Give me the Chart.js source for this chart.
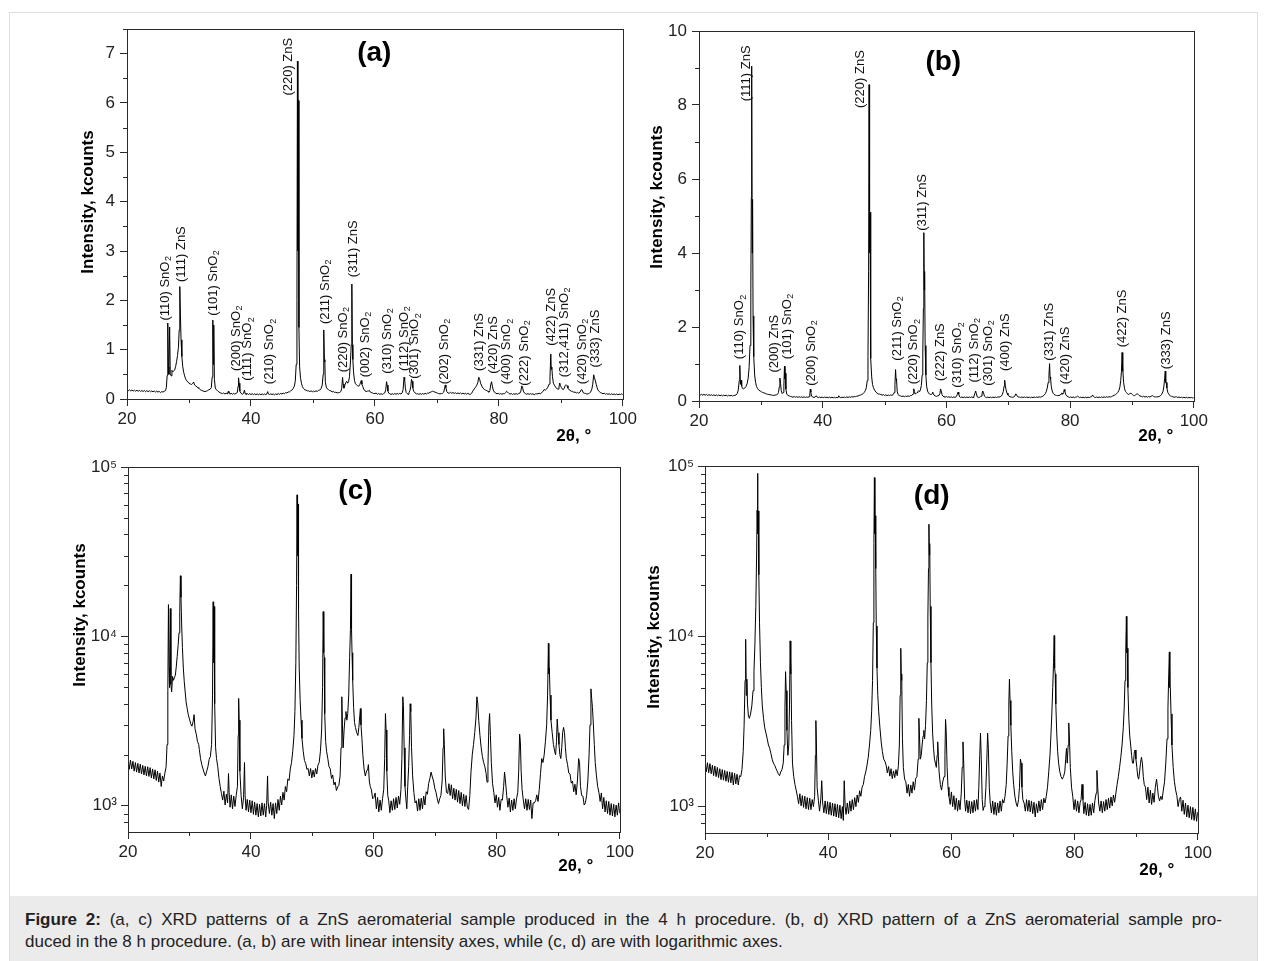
<!DOCTYPE html>
<html><head><meta charset="utf-8">
<script src="https://cdn.jsdelivr.net/npm/chart.js@4/dist/chart.umd.min.js"></script>
<style>
html,body{margin:0;padding:0;background:#fff;}
body{width:1265px;height:961px;position:relative;overflow:hidden;font-family:"Liberation Sans",Arial,sans-serif;}
#frame{position:absolute;left:9px;top:12px;width:1247px;height:960px;border:1px solid #dedede;}
canvas{position:absolute;}
#caption{position:absolute;left:10px;top:896px;width:1247px;height:65px;background:#ebebeb;}
#caption p{margin:0;position:absolute;left:15px;top:13px;font-size:17px;line-height:22px;color:#222;white-space:nowrap;}
#caption .l1{display:block;width:1197px;text-align:justify;text-align-last:justify;white-space:normal;}
</style></head>
<body>
<div id="frame"></div>
<canvas id="ca"></canvas><canvas id="cb"></canvas><canvas id="cc"></canvas><canvas id="cd"></canvas>
<div id="caption"><p><span class="l1"><b>Figure 2:</b> (a, c) XRD patterns of a ZnS aeromaterial sample produced in the 4 h procedure. (b, d) XRD pattern of a ZnS aeromaterial sample pro-</span>duced in the 8 h procedure. (a, b) are with linear intensity axes, while (c, d) are with logarithmic axes.</p></div>
<script>
// ---------- DATA: [2theta (deg), intensity (counts)] ----------
const pattern4h = [
[20.0,1900],[20.2,1640],[20.4,1860],[20.6,1650],[20.8,1830],[21.0,1600],[21.2,1800],[21.4,1580],[21.6,1780],[21.8,1560],
[22.0,1760],[22.2,1540],[22.4,1730],[22.6,1520],[22.8,1710],[23.0,1500],[23.2,1700],[23.4,1490],[23.6,1680],[23.8,1460],
[24.0,1650],[24.2,1440],[24.4,1630],[24.6,1410],[24.8,1600],[25.0,1380],[25.2,1560],[25.4,1300],[25.6,1500],[25.8,1400],
[26.0,1560],[26.2,1700],[26.35,2300],[26.48,4800],[26.58,15400],[26.68,6500],[26.76,5000],[26.88,14600],[26.98,5200],[27.1,4700],
[27.25,5800],[27.4,5500],[27.55,5700],[27.7,5900],[27.85,6600],[28.0,7600],[28.15,8800],[28.3,10500],[28.42,14000],[28.52,22800],
[28.62,17000],[28.72,12000],[28.85,8600],[29.0,6500],[29.15,5400],[29.3,4700],[29.45,4100],[29.6,3800],[29.8,3450],[30.0,3250],
[30.2,3050],[30.4,2950],[30.6,3150],[30.75,3450],[30.9,2850],[31.1,2650],[31.3,2400],[31.5,2300],[31.6,2150],[31.8,1900],
[32.0,1750],[32.2,1650],[32.4,1560],[32.6,1500],[32.8,1600],[33.0,1700],[33.2,1880],[33.4,1950],[33.6,2300],[33.75,4500],
[33.85,16000],[33.93,7000],[34.0,15000],[34.1,4000],[34.25,2200],[34.4,1900],[34.6,1700],[34.8,1450],[35.0,1300],[35.2,1180],
[35.4,1080],[35.6,1220],[35.8,1010],[36.0,1170],[36.2,1040],[36.35,1550],[36.45,1200],[36.6,980],[36.8,1160],[37.0,960],
[37.2,1140],[37.4,990],[37.6,1150],[37.8,1300],[37.92,2600],[38.0,4300],[38.08,3200],[38.2,1600],[38.4,1150],[38.6,960],
[38.8,1120],[38.95,1800],[39.05,1150],[39.2,940],[39.4,1090],[39.6,920],[39.8,1080],[40.0,910],[40.2,1070],[40.4,890],
[40.6,1050],[40.8,880],[41.0,1030],[41.2,860],[41.4,1020],[41.6,870],[41.8,1040],[42.0,880],[42.2,1030],[42.4,860],
[42.55,1000],[42.7,1500],[42.8,1050],[43.0,900],[43.2,1050],[43.4,880],[43.6,1030],[43.8,840],[44.0,1040],[44.2,900],
[44.4,1090],[44.6,940],[44.8,1140],[45.0,1010],[45.2,1200],[45.4,1080],[45.6,1300],[45.8,1210],[46.0,1440],[46.2,1410],
[46.4,1650],[46.6,1800],[46.8,2100],[47.0,2600],[47.15,3600],[47.3,7000],[47.42,20000],[47.5,68500],[47.58,30000],[47.66,60500],
[47.74,14500],[47.85,6500],[48.0,4200],[48.15,3200],[48.3,2500],[48.5,2100],[48.7,1850],[48.9,1780],[49.1,1640],[49.3,1660],
[49.5,1500],[49.7,1660],[49.9,1460],[50.1,1620],[50.3,1480],[50.5,1660],[50.7,1540],[50.9,1740],[51.1,1800],[51.3,2100],
[51.5,2800],[51.65,5000],[51.75,14000],[51.85,8000],[51.92,7500],[52.0,3500],[52.15,2400],[52.3,2100],[52.5,1900],[52.7,1700],
[52.9,1650],[53.1,1450],[53.3,1520],[53.5,1330],[53.7,1380],[53.9,1230],[54.1,1290],[54.3,1320],[54.5,1500],[54.65,2200],
[54.78,4400],[54.88,3000],[55.0,2200],[55.15,2800],[55.3,3300],[55.45,3600],[55.6,3200],[55.75,3500],[55.9,4500],[56.05,7500],
[56.18,11000],[56.28,23300],[56.36,11000],[56.44,8000],[56.55,5500],[56.7,3800],[56.85,3100],[57.0,2900],[57.2,2700],[57.4,2600],
[57.55,2900],[57.7,3400],[57.8,3750],[57.9,3000],[58.05,2500],[58.2,2000],[58.4,1650],[58.6,1500],[58.8,1600],[59.0,1650],
[59.1,1750],[59.25,1400],[59.4,1300],[59.6,1240],[59.8,1100],[60.0,1120],[60.2,1190],[60.4,960],[60.6,1120],[60.8,920],
[61.0,1080],[61.2,940],[61.4,1100],[61.6,1250],[61.75,1900],[61.88,3500],[61.98,2800],[62.1,1600],[62.25,1150],[62.4,1080],
[62.6,910],[62.8,1070],[63.0,940],[63.2,1100],[63.4,950],[63.6,1120],[63.8,970],[64.0,1140],[64.2,1020],[64.4,1250],
[64.55,1900],[64.7,4400],[64.8,3900],[64.92,2200],[65.05,1300],[65.2,1100],[65.35,960],[65.5,1300],[65.65,1700],[65.8,2600],
[65.9,4000],[66.0,3600],[66.12,2200],[66.3,1500],[66.5,1200],[66.7,1040],[66.9,1070],[67.1,930],[67.3,1100],[67.5,940],
[67.7,1110],[67.9,960],[68.1,1140],[68.3,1010],[68.5,1210],[68.7,1170],[68.9,1350],[69.1,1450],[69.3,1580],[69.5,1480],
[69.7,1400],[69.9,1270],[70.1,1200],[70.3,1100],[70.5,1030],[70.7,1100],[70.9,1150],[71.1,1400],[71.25,2200],[71.35,2850],
[71.45,2300],[71.6,1500],[71.8,1200],[72.0,1180],[72.2,1350],[72.4,1150],[72.6,1330],[72.8,1100],[73.0,1270],[73.2,1080],
[73.4,1250],[73.6,1050],[73.8,1230],[74.0,1030],[74.2,1200],[74.4,1000],[74.6,1170],[74.8,990],[75.0,1150],[75.2,980],
[75.4,950],[75.6,1150],[75.8,1600],[76.0,2000],[76.2,2300],[76.4,2700],[76.6,3300],[76.75,4400],[76.9,4000],[77.05,3200],
[77.25,2600],[77.45,2200],[77.65,1950],[77.85,1800],[78.05,1700],[78.25,1550],[78.4,1380],[78.55,1700],[78.7,3000],[78.82,3500],
[78.95,2600],[79.1,1800],[79.3,1350],[79.5,1200],[79.7,1040],[79.9,1160],[80.1,980],[80.3,1120],[80.5,940],[80.7,1090],
[80.9,1080],[81.1,1300],[81.25,1580],[81.4,1400],[81.6,1150],[81.8,980],[82.0,1110],[82.2,920],[82.4,1080],[82.6,940],
[82.8,1100],[83.0,960],[83.2,1100],[83.4,1200],[83.55,1600],[83.7,2650],[83.82,2400],[83.95,1600],[84.1,1250],[84.3,1080],
[84.5,960],[84.7,1100],[84.9,940],[85.1,1090],[85.3,950],[85.5,1080],[85.7,840],[85.9,1040],[86.1,1040],[86.3,1070],
[86.5,1160],[86.7,1060],[86.9,1250],[87.1,1550],[87.3,1900],[87.5,1800],[87.7,2000],[87.9,2400],[88.1,3000],[88.25,4500],
[88.38,9100],[88.46,6000],[88.54,6500],[88.65,4500],[88.8,3200],[89.0,2700],[89.2,2300],[89.4,2100],[89.55,2000],[89.7,2400],
[89.82,3250],[89.95,2700],[90.1,2300],[90.25,2000],[90.4,1900],[90.55,2200],[90.7,2700],[90.85,2900],[91.0,2700],[91.15,2200],
[91.3,1900],[91.5,1750],[91.7,1560],[91.9,1540],[92.1,1360],[92.3,1400],[92.5,1210],[92.7,1340],[92.9,1160],[93.1,1400],
[93.3,1900],[93.45,1800],[93.6,1300],[93.8,1150],[94.0,1140],[94.2,1010],[94.4,1040],[94.6,1150],[94.8,1400],[95.0,2000],
[95.15,3000],[95.3,4900],[95.42,4300],[95.55,3800],[95.7,3000],[95.85,2300],[96.0,1800],[96.2,1500],[96.4,1300],[96.6,1200],
[96.8,1060],[97.0,1190],[97.2,960],[97.4,1120],[97.6,920],[97.8,1070],[98.0,900],[98.2,1060],[98.4,880],[98.6,1030],
[98.8,870],[99.0,1020],[99.2,860],[99.4,1010],[99.6,880],[99.8,1040],[100.0,900]
];
const pattern8h = [
[20.0,1840],[20.2,1600],[20.4,1810],[20.6,1580],[20.8,1790],[21.0,1560],[21.2,1750],[21.4,1520],[21.6,1730],[21.8,1500],
[22.0,1700],[22.2,1480],[22.4,1670],[22.6,1440],[22.8,1650],[23.0,1430],[23.2,1630],[23.4,1410],[23.6,1610],[23.8,1390],
[24.0,1600],[24.2,1380],[24.4,1590],[24.6,1340],[24.8,1570],[25.0,1360],[25.2,1550],[25.4,1340],[25.6,1520],[25.8,1500],
[26.0,1650],[26.2,2100],[26.35,3000],[26.5,5500],[26.6,9600],[26.7,4500],[26.8,5600],[26.9,4000],[27.05,3400],[27.2,3300],
[27.4,3500],[27.6,3900],[27.8,4800],[27.95,6200],[28.1,9000],[28.25,15000],[28.38,30000],[28.46,55000],[28.52,90500],[28.6,40000],
[28.66,54500],[28.74,23000],[28.85,12000],[29.0,7000],[29.15,5000],[29.3,3900],[29.5,3300],[29.7,2900],[29.9,2700],[30.1,2500],
[30.3,2300],[30.5,2200],[30.7,2050],[30.9,1900],[31.1,1800],[31.3,1750],[31.5,1680],[31.7,1620],[31.9,1560],[32.1,1520],
[32.3,1600],[32.5,1650],[32.7,1800],[32.85,2300],[32.98,3800],[33.08,6200],[33.18,4800],[33.3,2800],[33.45,2000],[33.6,2300],
[33.72,4000],[33.82,9400],[33.9,6000],[33.96,7500],[34.05,3200],[34.2,1800],[34.4,1500],[34.6,1350],[34.8,1250],[35.0,1150],
[35.2,1040],[35.4,1190],[35.6,1010],[35.8,1160],[36.0,990],[36.2,1150],[36.4,970],[36.6,1130],[36.8,960],[37.0,1120],
[37.2,960],[37.4,1100],[37.6,1000],[37.8,1150],[37.92,2000],[38.0,3200],[38.08,2400],[38.2,1300],[38.4,1090],[38.6,940],
[38.8,1110],[38.95,1420],[39.1,1050],[39.3,920],[39.5,1080],[39.7,910],[39.9,1070],[40.1,900],[40.3,1060],[40.5,890],
[40.7,1050],[40.9,880],[41.1,1040],[41.3,870],[41.5,1030],[41.7,860],[41.9,1020],[42.1,850],[42.3,1000],[42.45,830],
[42.6,1420],[42.75,1000],[42.9,900],[43.1,1050],[43.3,910],[43.5,1080],[43.7,940],[43.9,1100],[44.1,960],[44.3,1130],
[44.5,1000],[44.7,1170],[44.9,1060],[45.1,1240],[45.3,1150],[45.5,1300],[45.7,1350],[45.9,1500],[46.1,1600],[46.3,1750],
[46.5,1950],[46.7,2300],[46.9,2800],[47.05,3600],[47.2,5500],[47.32,12000],[47.42,35000],[47.5,85500],[47.58,40000],[47.65,51000],
[47.72,25000],[47.8,11500],[47.92,6500],[48.05,4500],[48.2,3600],[48.4,2900],[48.6,2400],[48.8,2100],[49.0,1900],[49.2,1850],
[49.4,1750],[49.6,1580],[49.8,1720],[50.0,1510],[50.2,1670],[50.4,1460],[50.6,1620],[50.8,1480],[51.0,1650],[51.2,1520],
[51.4,1750],[51.55,2300],[51.68,4500],[51.78,8500],[51.86,6000],[51.94,5500],[52.05,2500],[52.2,1700],[52.4,1450],[52.6,1400],
[52.8,1200],[53.0,1350],[53.2,1150],[53.4,1340],[53.6,1200],[53.8,1400],[54.0,1250],[54.2,1460],[54.4,1500],[54.6,1900],
[54.72,3300],[54.82,2600],[54.95,1900],[55.1,2000],[55.25,2300],[55.4,2600],[55.52,2800],[55.65,2500],[55.8,3000],[55.95,4200],
[56.08,7000],[56.18,13000],[56.28,25000],[56.35,45500],[56.42,30000],[56.48,35000],[56.56,15000],[56.68,7000],[56.8,4000],[56.95,2700],
[57.1,2200],[57.25,1900],[57.4,1800],[57.55,1700],[57.68,2000],[57.78,2400],[57.88,2000],[58.0,1600],[58.2,1350],[58.4,1250],
[58.6,1400],[58.8,1500],[58.95,2000],[59.05,3250],[59.15,2800],[59.3,1700],[59.45,1300],[59.6,1150],[59.8,1030],[60.0,1220],
[60.2,1000],[60.4,1160],[60.6,960],[60.8,1120],[61.0,940],[61.2,1090],[61.4,960],[61.6,1200],[61.75,1700],[61.88,2400],
[62.0,1800],[62.15,1100],[62.3,940],[62.5,1090],[62.7,920],[62.9,1080],[63.1,910],[63.3,1070],[63.5,920],[63.7,1090],
[63.9,940],[64.1,1100],[64.3,960],[64.45,1300],[64.6,2000],[64.72,2700],[64.85,1900],[65.0,1100],[65.15,950],[65.3,1000],
[65.45,1050],[65.6,1300],[65.75,1900],[65.88,2700],[66.0,2200],[66.15,1300],[66.3,1050],[66.5,920],[66.7,1080],[66.9,900],
[67.1,1060],[67.3,890],[67.5,1050],[67.7,920],[67.9,1080],[68.1,940],[68.3,1100],[68.5,1050],[68.7,1150],[68.9,1350],
[69.05,1800],[69.2,2600],[69.32,4000],[69.42,5600],[69.52,4200],[69.65,3000],[69.8,2100],[69.95,1600],[70.1,1350],[70.3,1150],
[70.5,1050],[70.7,1000],[70.9,1100],[71.05,1300],[71.2,1900],[71.32,1800],[71.45,1300],[71.6,1100],[71.8,1050],[72.0,940],
[72.2,1100],[72.4,940],[72.6,1090],[72.8,930],[73.0,1080],[73.2,910],[73.4,1060],[73.6,870],[73.8,1040],[74.0,920],
[74.2,1080],[74.4,940],[74.6,1100],[74.8,960],[75.0,1120],[75.2,1050],[75.4,1150],[75.6,1300],[75.8,1600],[76.0,2000],
[76.15,2600],[76.3,3500],[76.45,5000],[76.58,7000],[76.68,10100],[76.76,6500],[76.85,6000],[76.95,4000],[77.1,2700],[77.25,2100],
[77.4,1800],[77.6,1600],[77.8,1500],[78.0,1450],[78.2,1500],[78.4,1600],[78.55,1900],[78.68,2200],[78.8,1800],[78.95,2300],
[79.05,3100],[79.15,2600],[79.3,1700],[79.5,1300],[79.7,1150],[79.9,960],[80.1,1100],[80.3,940],[80.5,1080],[80.7,920],
[80.9,1060],[81.05,1100],[81.2,1350],[81.35,1100],[81.5,910],[81.7,1060],[81.9,890],[82.1,1040],[82.3,880],[82.5,1030],
[82.7,890],[82.9,1050],[83.1,920],[83.3,1090],[83.5,1200],[83.62,1630],[83.75,1300],[83.9,1050],[84.1,940],[84.3,1080],
[84.5,920],[84.7,1070],[84.9,940],[85.1,1100],[85.3,960],[85.5,1120],[85.7,980],[85.9,1140],[86.1,1010],[86.3,1170],
[86.5,1060],[86.7,1200],[86.9,1350],[87.1,1500],[87.3,1700],[87.5,1950],[87.7,2300],[87.9,2900],[88.05,3800],[88.18,5500],
[88.3,8000],[88.4,13100],[88.48,8000],[88.55,8500],[88.65,5000],[88.8,3300],[88.95,2600],[89.1,2300],[89.25,2000],[89.4,1800],
[89.55,1800],[89.7,2100],[89.82,2150],[89.95,1900],[90.1,1700],[90.25,1500],[90.4,1450],[90.55,1600],[90.7,1800],[90.85,1950],
[91.0,1800],[91.15,1500],[91.3,1350],[91.5,1300],[91.7,1100],[91.9,1300],[92.1,1050],[92.3,1250],[92.5,1030],[92.7,1200],
[92.9,1060],[93.1,1300],[93.3,1450],[93.45,1300],[93.6,1150],[93.8,1080],[94.0,1150],[94.2,1100],[94.4,1250],[94.6,1400],
[94.8,1800],[95.0,2500],[95.15,3800],[95.28,6000],[95.38,8100],[95.46,5000],[95.54,5000],[95.65,3500],[95.8,2300],[96.0,1700],
[96.2,1400],[96.4,1250],[96.6,1160],[96.8,1000],[97.0,1100],[97.2,1140],[97.4,940],[97.6,1090],[97.8,900],[98.0,1050],
[98.2,870],[98.4,1020],[98.6,860],[98.8,1000],[99.0,840],[99.2,990],[99.4,830],[99.6,970],[99.8,820],[100.0,930]
];

// peak labels: [2theta, base level (kcounts), text]  ("_2" = subscript 2)
const peaksA = [
[26.15,1.59,'(110) SnO_2'],[28.8,2.37,'(111) ZnS'],[33.9,1.69,'(101) SnO_2'],[37.6,0.57,'(200) SnO_2'],
[39.5,0.37,'(111) SnO_2'],[43.0,0.30,'(210) SnO_2'],[46.0,6.15,'(220) ZnS'],[52.0,1.52,'(211) SnO_2'],
[54.9,0.54,'(220) SnO_2'],[56.5,2.47,'(311) ZnS'],[58.4,0.44,'(002) SnO_2'],[62.0,0.51,'(310) SnO_2'],
[64.7,0.57,'(112) SnO_2'],[66.4,0.41,'(301) SnO_2'],[71.2,0.30,'(202) SnO_2'],[76.8,0.57,'(331) ZnS'],
[79.2,0.51,'(420) ZnS'],[81.3,0.30,'(400) SnO_2'],[84.1,0.27,'(222) SnO_2'],[88.4,1.08,'(422) ZnS'],
[90.5,0.44,'(312,411) SnO_2'],[93.45,0.30,'(420) SnO_2'],[95.5,0.64,'(333) ZnS']
];
const peaksB = [
[26.6,1.13,'(110) SnO_2'],[27.6,8.1,'(111) ZnS'],[32.2,0.77,'(200) ZnS'],[34.3,1.13,'(101) SnO_2'],
[38.1,0.41,'(200) SnO_2'],[46.1,7.92,'(220) ZnS'],[52.0,1.09,'(211) SnO_2'],[54.7,0.45,'(220) SnO_2'],
[56.2,4.6,'(311) ZnS'],[59.0,0.54,'(222) ZnS'],[61.8,0.36,'(310) SnO_2'],[64.5,0.50,'(112) SnO_2'],
[66.8,0.41,'(301) SnO_2'],[69.5,0.81,'(400) ZnS'],[76.6,1.09,'(331) ZnS'],[79.2,0.45,'(420) ZnS'],
[88.4,1.45,'(422) ZnS'],[95.5,0.86,'(333) ZnS']
];

// tick values
const xTicks = [20,40,60,80,100];
const xMinor = [30,50,70,90];
const yTicksA = [0,1,2,3,4,5,6,7];
const yMinorA = [0.5,1.5,2.5,3.5,4.5,5.5,6.5,7.5];
const yTicksB = [0,2,4,6,8,10];
const yMinorB = [1,3,5,7,9];
const yTicksLog = [1000,10000,100000];
const yMinorLog = [800,900,2000,3000,4000,5000,6000,7000,8000,9000,20000,30000,40000,50000,60000,70000,80000,90000];
const supDigits = {3:'\u00B3',4:'\u2074',5:'\u2075'};
const countsPerLinearUnit = 10000;

// ---------- drawing ----------
const FONT = '"Liberation Sans", Arial, Helvetica, sans-serif';
function drawRotLabel(ctx, px, py, text){
  ctx.save();
  ctx.translate(px, py);
  ctx.rotate(-Math.PI/2);
  ctx.textAlign='left'; ctx.textBaseline='middle';
  const parts = text.split('_');
  ctx.font = '13px '+FONT;
  ctx.fillText(parts[0], 0, 0);
  if (parts[1]){
    const w = ctx.measureText(parts[0]).width;
    ctx.font = '9px '+FONT;
    ctx.fillText(parts[1], w+0.5, 3.5);
  }
  ctx.restore();
}
const decor = {
  id:'decor',
  afterDraw(chart, args, o){
    const {ctx, chartArea:a, scales:{x,y}} = chart;
    ctx.save();
    ctx.strokeStyle='#2a2a2a'; ctx.lineWidth=1;
    ctx.strokeRect(Math.round(a.left)+0.5, Math.round(a.top)+0.5, Math.round(a.right-a.left), Math.round(a.bottom-a.top));
    ctx.beginPath();
    o.minorX.forEach(v=>{const px=Math.round(x.getPixelForValue(v))+0.5; ctx.moveTo(px,a.bottom); ctx.lineTo(px,a.bottom+4);});
    o.minorY.forEach(v=>{const py=Math.round(y.getPixelForValue(v))+0.5; ctx.moveTo(a.left,py); ctx.lineTo(a.left-4,py);});
    ctx.stroke();
    ctx.fillStyle='#000';
    ctx.textAlign='center'; ctx.textBaseline='middle';
    ctx.font='bold 28px '+FONT;
    ctx.fillText(o.letter, x.getPixelForValue(o.letterAt[0]), y.getPixelForValue(o.letterAt[1]));
    ctx.font='bold 17px '+FONT;
    ctx.save(); ctx.translate(a.left+o.yTitle[0], a.top+o.yTitle[1]); ctx.rotate(-Math.PI/2);
    ctx.fillText('Intensity, kcounts',0,0); ctx.restore();
    ctx.fillText('2\u03B8, \u00B0', a.right+o.xTitle[0], a.bottom+o.xTitle[1]);
    ctx.fillStyle='#111';
    (o.peaks||[]).forEach(p=>drawRotLabel(ctx, x.getPixelForValue(p[0]), y.getPixelForValue(p[1]), p[2]));
    ctx.restore();
  }
};

const YW=118, XH=60, PT=20, PR=14;
function makePanel(id, box, data, yCfg, deco){
  const cv = document.getElementById(id);
  const w = box.R-box.L+YW+PR, h = box.B-box.T+PT+XH;
  cv.width=w; cv.height=h;
  cv.style.left=(box.L-YW)+'px'; cv.style.top=(box.T-PT)+'px';
  cv.style.width=w+'px'; cv.style.height=h+'px';
  const tickFont={family:FONT,size:17};
  new Chart(cv,{
    type:'line',
    data:{datasets:[{data, borderColor:'#000', borderWidth:1, pointRadius:0, tension:0, borderJoinStyle:'bevel', fill:false}]},
    options:{
      responsive:false, animation:false, parsing:false, normalized:true,
      layout:{padding:{left:0,right:PR,top:PT,bottom:0}},
      plugins:{legend:{display:false}, tooltip:{enabled:false}, decor:deco},
      scales:{
        x:{type:'linear', min:20, max:100,
           afterBuildTicks:s=>{s.ticks=xTicks.map(v=>({value:v}));},
           afterFit:s=>{s.height=XH;},
           ticks:{font:tickFont, color:'#222', padding:3, maxRotation:0, autoSkip:false},
           grid:{drawOnChartArea:false, drawTicks:true, tickLength:7, tickColor:'#2a2a2a'},
           border:{display:true, color:'#2a2a2a'}},
        y:Object.assign({
           afterFit:s=>{s.width=YW;},
           grid:{drawOnChartArea:false, drawTicks:true, tickLength:7, tickColor:'#2a2a2a'},
           border:{display:true, color:'#2a2a2a'}}, yCfg)
      }
    },
    plugins:[decor]
  });
}

const linA = pattern4h.map(p=>({x:p[0], y:p[1]/countsPerLinearUnit}));
const linB = pattern8h.map(p=>({x:p[0], y:p[1]/countsPerLinearUnit}));
const logA = pattern4h.map(p=>({x:p[0], y:p[1]}));
const logB = pattern8h.map(p=>({x:p[0], y:p[1]}));
const tickFontY={family:FONT,size:17};
const logCfg = {type:'logarithmic', min:700, max:100000,
  afterBuildTicks:s=>{s.ticks=yTicksLog.map(v=>({value:v}));},
  ticks:{font:tickFontY, color:'#222', padding:4, autoSkip:false,
         callback:v=>'10'+supDigits[Math.round(Math.log10(v))]}};

makePanel('ca',{L:127,R:626,T:29,B:399}, linA,
  {type:'linear', min:0, max:7.5,
   afterBuildTicks:s=>{s.ticks=yTicksA.map(v=>({value:v}));},
   ticks:{font:tickFontY, color:'#222', padding:5, autoSkip:false}},
  {letter:'(a)', letterAt:[59.9,7.0], peaks:peaksA, minorX:xMinor, minorY:yMinorA, yTitle:[-39,173], xTitle:[-49,37]});
makePanel('cb',{L:699,R:1197,T:31,B:401}, linB,
  {type:'linear', min:0, max:10,
   afterBuildTicks:s=>{s.ticks=yTicksB.map(v=>({value:v}));},
   ticks:{font:tickFontY, color:'#222', padding:5, autoSkip:false}},
  {letter:'(b)', letterAt:[59.5,9.16], peaks:peaksB, minorX:xMinor, minorY:yMinorB, yTitle:[-42,166], xTitle:[-38,35]});
makePanel('cc',{L:128,R:623,T:467,B:832}, logA, logCfg,
  {letter:'(c)', letterAt:[57.0,72100], peaks:[], minorX:xMinor, minorY:yMinorLog, yTitle:[-48,148], xTitle:[-44,34]});
makePanel('cd',{L:705,R:1201,T:466,B:833}, logB, logCfg,
  {letter:'(d)', letterAt:[56.8,66700], peaks:[], minorX:xMinor, minorY:yMinorLog, yTitle:[-51,171], xTitle:[-41,37]});
</script>
</body></html>
